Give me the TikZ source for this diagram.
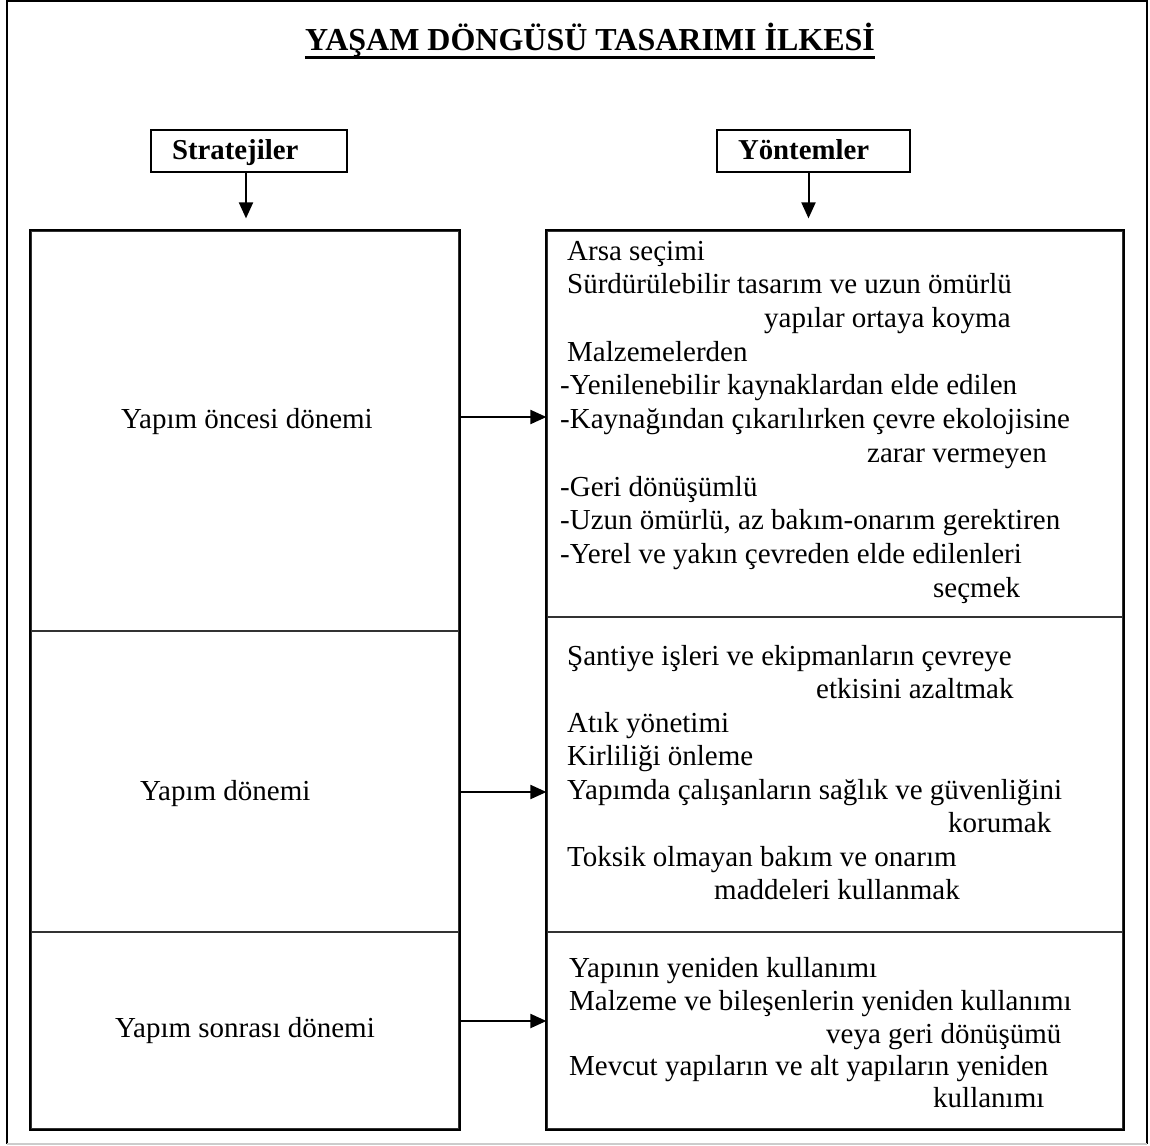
\documentclass[tikz,border=0pt]{standalone}
\usepackage{fontspec}
\setmainfont{Liberation Serif}
\usetikzlibrary{arrows.meta}
\begin{document}
\begin{tikzpicture}[x=1pt,y=-1pt,
  frameline/.style={line width=2pt, draw=black},
  cell/.style={draw=black!80, line width=1.2pt, inner sep=0pt},
  hdr/.style={draw=black, line width=2pt, font=\bfseries\fontsize{28.8pt}{33pt}\selectfont,
              inner xsep=21pt, inner ysep=8pt, text height=21pt, text depth=5pt, align=left},
  body/.style={font=\fontsize{29pt}{34pt}\selectfont, inner sep=0pt},
  ln/.style={body, anchor=base west},
  arr/.style={line width=2pt, -{Triangle[length=16pt,width=14pt]}}
]
\useasboundingbox (0,0) rectangle (1150,1145);

% outer frame
\draw[frameline] (7,1144) -- (7,1.5) -- (1147,1.5) -- (1147,1144);
\draw[black!20, line width=1.5pt] (7,1144) -- (1147,1144);

% title
\node[font=\bfseries\fontsize{32pt}{37pt}\selectfont, inner sep=0pt, anchor=base]
  (title) at (590,51) {YAŞAM DÖNGÜSÜ TASARIMI İLKESİ};
\draw[line width=2.3pt] ([yshift=-6.5pt]title.base west) -- ([yshift=-6.5pt]title.base east);

% column headers
\node[hdr, text width=154pt] (str) at (249,151) {Stratejiler};
\node[hdr, text width=151pt] (yon) at (813.5,151) {Yöntemler};

% strategy cells
\node[cell, minimum width=428pt, minimum height=400pt] (pre)  at (245,431)    {};
\node[cell, minimum width=428pt, minimum height=301pt] (con)  at (245,781.5)  {};
\node[cell, minimum width=428pt, minimum height=197pt] (post) at (245,1030.5) {};
\draw[frameline] (pre.north west) rectangle (post.south east);

% method cells
\node[cell, minimum width=576pt, minimum height=386pt] (mpre)  at (835,424)    {};
\node[cell, minimum width=576pt, minimum height=315pt] (mcon)  at (835,774.5)  {};
\node[cell, minimum width=576pt, minimum height=197pt] (mpost) at (835,1030.5) {};
\draw[frameline] (mpre.north west) rectangle (mpost.south east);

% strategy labels
\node[body, anchor=base] (tpre) at (247,428) {Yapım öncesi dönemi};
\node[body, anchor=base west] (tcon) at (140,800) {Yapım dönemi};
\node[body, anchor=base] (tpost) at (245,1037) {Yapım sonrası dönemi};

% methods: pre-construction
\node[ln] (a1)  at (567,260)   {Arsa seçimi};
\node[ln] (a2)  at (567,293.7) {Sürdürülebilir tasarım ve uzun ömürlü};
\node[ln] (a3)  at (764,327.4) {yapılar ortaya koyma};
\node[ln] (a4)  at (567,361)   {Malzemelerden};
\node[ln] (a5)  at (560,394.8) {-Yenilenebilir kaynaklardan elde edilen};
\node[ln] (a6)  at (560,428.5) {-Kaynağından çıkarılırken çevre ekolojisine};
\node[ln] (a7)  at (867,462)   {zarar vermeyen};
\node[ln] (a8)  at (560,496)   {-Geri dönüşümlü};
\node[ln] (a9)  at (560,529.6) {-Uzun ömürlü, az bakım-onarım gerektiren};
\node[ln] (a10) at (560,563)   {-Yerel ve yakın çevreden elde edilenleri};
\node[ln] (a11) at (933,597)   {seçmek};

% methods: construction
\node[ln] (b1) at (567,665)   {Şantiye işleri ve ekipmanların çevreye};
\node[ln] (b2) at (816,698.5) {etkisini azaltmak};
\node[ln] (b3) at (567,732)   {Atık yönetimi};
\node[ln] (b4) at (567,765.5) {Kirliliği önleme};
\node[ln] (b5) at (567,799)   {Yapımda çalışanların sağlık ve güvenliğini};
\node[ln] (b6) at (948,832.5) {korumak};
\node[ln] (b7) at (567,866)   {Toksik olmayan bakım ve onarım};
\node[ln] (b8) at (714,899.5) {maddeleri kullanmak};

% methods: post-construction
\node[ln] (c1) at (569,977)  {Yapının yeniden kullanımı};
\node[ln] (c2) at (569,1010) {Malzeme ve bileşenlerin yeniden kullanımı};
\node[ln] (c3) at (826,1043) {veya geri dönüşümü};
\node[ln] (c4) at (569,1075) {Mevcut yapıların ve alt yapıların yeniden};
\node[ln] (c5) at (933,1107) {kullanımı};

% connectors
\draw[arr] ([xshift=-3pt]str.south) -- ([xshift=-3pt,yshift=12pt]str.south |- pre.north);
\draw[arr] ([xshift=-5pt]yon.south) -- ([xshift=-5pt,yshift=12pt]yon.south |- mpre.north);
\draw[arr] ([yshift=14pt]pre.east) -- ([yshift=14pt]pre.east -| mpre.west);
\draw[arr] ([yshift=-10.5pt]con.east) -- ([yshift=-10.5pt]con.east -| mcon.west);
\draw[arr] ([yshift=9.5pt]post.east) -- ([yshift=9.5pt]post.east -| mpost.west);
\end{tikzpicture}
\end{document}
